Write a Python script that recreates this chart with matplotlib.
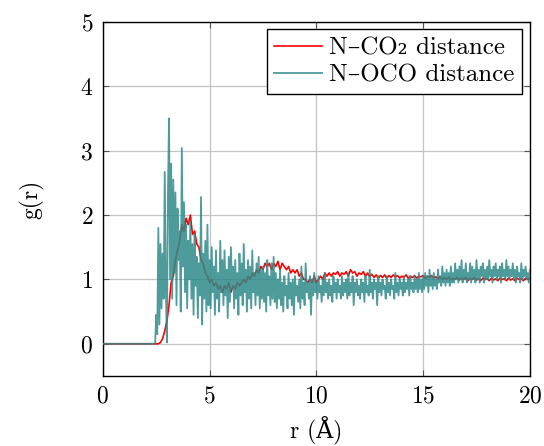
import numpy as np
import matplotlib
matplotlib.use("Agg")
import matplotlib.pyplot as plt

plt.rcParams['font.family'] = ['cmr10', 'DejaVu Serif']
plt.rcParams['mathtext.fontset'] = 'cm'
plt.rcParams['axes.formatter.use_mathtext'] = True

# N-CO2 g(r), sampled every 0.1 A starting at 2.6 A (zero before)
co2_start, co2_step = 2.6, 0.1
g_co2 = [
    0.0, 0.02, 0.08, 0.2, 0.35, 0.6, 0.95, 1.05, 1.3, 1.45,
    1.6, 1.85, 1.75, 1.95, 1.85, 2.0, 1.7, 1.75, 1.55, 1.5,
    1.3, 1.25, 1.1, 1.05, 0.95, 1.0, 0.9, 0.95, 0.85, 0.9,
    0.8, 0.9, 0.85, 0.95, 0.8, 0.9, 0.85, 0.95, 0.9, 0.95,
    1.0, 0.95, 1.05, 1.0, 1.1, 1.05, 1.15, 1.1, 1.2, 1.15,
    1.25, 1.2, 1.25, 1.15, 1.25, 1.2, 1.28, 1.15, 1.25, 1.2,
    1.15, 1.2, 1.1, 1.15, 1.1, 1.15, 1.05, 1.1, 1.0, 1.0,
    0.95, 1.0, 0.95, 1.05, 0.95, 1.0, 1.05, 1.0, 1.1, 1.05,
    1.1, 1.05, 1.1, 1.08, 1.12, 1.05, 1.1, 1.08, 1.12, 1.05,
    1.15, 1.1, 1.12, 1.05, 1.1, 1.08, 1.12, 1.05, 1.1, 1.04,
    1.08, 1.03, 1.07, 1.02, 1.06, 1.03, 1.07, 1.02, 1.06, 1.03,
    1.07, 1.04, 1.06, 1.02, 1.05, 1.03, 1.07, 1.02, 1.05, 1.03,
    1.06, 1.02, 1.05, 1.04, 1.06, 1.02, 1.05, 1.03, 1.06, 1.02,
    1.04, 1.01, 1.04, 1.0, 1.03, 1.0, 1.04, 0.99, 1.02, 1.0,
    1.03, 0.99, 1.02, 1.0, 1.03, 0.98, 1.02, 1.0, 1.03, 0.99,
    1.01, 0.98, 1.02, 1.0, 1.01, 0.98, 1.02, 0.99, 1.01, 0.98,
    1.02, 1.0, 1.01, 0.98, 1.02, 0.99, 1.01, 0.98, 1.02, 1.0,
    1.01, 0.98, 1.02, 1.0, 1.01,
]

# N-OCO g(r), sampled every 0.05 A starting at 2.4 A (zero before)
oco_start, oco_step = 2.4, 0.05
g_oco = [
    0.0, 0.0, 0.45, 0.15, 1.8, 0.3, 1.55, 0.55, 1.4, 0.7,
    2.67, 0.9, 0.02, 2.3, 3.5, 1.0, 2.8, 0.7, 2.55, 1.1,
    2.35, 0.6, 2.1, 1.3, 1.75, 0.5, 3.04, 1.2, 2.2, 0.8,
    1.85, 0.55, 1.6, 1.0, 1.9, 0.7, 1.55, 0.45, 1.7, 0.9,
    1.35, 0.4, 1.25, 0.75, 2.28, 0.3, 1.4, 0.7, 1.6, 0.5,
    1.85, 0.6, 1.3, 0.55, 1.5, 0.8, 1.2, 0.45, 1.45, 0.7,
    1.1, 0.5, 1.6, 0.8, 1.3, 0.6, 1.45, 0.75, 1.15, 0.4,
    1.35, 0.65, 1.5, 0.85, 1.2, 0.55, 1.3, 0.7, 1.1, 0.45,
    1.4, 0.75, 1.25, 0.6, 1.55, 0.8, 1.15, 0.5, 1.3, 0.7,
    1.2, 0.55, 1.45, 0.8, 1.1, 0.6, 1.25, 0.75, 1.35, 0.55,
    1.15, 0.7, 1.2, 0.65, 1.1, 0.5, 1.3, 0.75, 1.05, 0.6,
    1.25, 0.7, 1.35, 0.65, 1.1, 0.55, 1.0, 0.7, 1.15, 0.6,
    0.95, 0.5, 1.05, 0.75, 0.9, 0.55, 1.1, 0.7, 0.95, 0.6,
    1.0, 0.45, 1.05, 0.75, 0.9, 0.65, 1.0, 0.55, 1.2, 0.7,
    0.95, 0.6, 1.25, 0.8, 0.95, 0.7, 1.05, 0.45, 1.0, 0.75,
    1.1, 0.8, 0.95, 0.7, 1.05, 0.8, 0.9, 0.65, 1.0, 0.75,
    1.1, 0.8, 0.95, 0.7, 1.0, 0.75, 0.9, 0.65, 1.05, 0.8,
    0.95, 0.7, 1.0, 0.8, 0.9, 0.7, 1.05, 0.75, 0.95, 0.8,
    1.0, 0.7, 1.1, 0.75, 0.95, 0.8, 1.05, 0.6, 0.95, 0.8,
    1.0, 0.75, 0.9, 0.7, 1.0, 0.8, 0.95, 0.65, 1.05, 0.8,
    0.9, 0.75, 1.15, 0.8, 0.95, 0.7, 1.0, 0.85, 0.95, 0.6,
    1.05, 0.8, 0.95, 0.75, 1.0, 0.85, 0.9, 0.7, 1.05, 0.8,
    0.95, 0.75, 1.0, 0.85, 0.9, 0.7, 1.1, 0.8, 0.95, 0.75,
    1.0, 0.85, 0.95, 0.75, 1.05, 0.8, 0.95, 0.85, 1.0, 0.75,
    1.05, 0.85, 0.95, 0.8, 1.05, 0.85, 1.0, 0.8, 1.1, 0.85,
    1.0, 0.8, 1.05, 0.85, 1.1, 0.9, 1.05, 0.8, 1.15, 0.9,
    1.05, 0.85, 1.1, 0.9, 1.0, 0.85, 1.15, 0.95, 1.05, 0.9,
    1.2, 0.95, 1.1, 0.9, 1.15, 0.95, 1.1, 0.9, 1.2, 0.95,
    1.1, 0.95, 1.25, 1.0, 1.15, 0.95, 1.2, 1.0, 1.3, 0.95,
    1.15, 1.0, 1.25, 0.95, 1.1, 1.0, 1.25, 0.95, 1.2, 1.0,
    1.15, 0.95, 1.3, 1.0, 1.15, 0.95, 1.2, 1.05, 1.25, 0.95,
    1.15, 1.0, 1.2, 1.0, 1.3, 1.05, 1.15, 0.95, 1.2, 1.05,
    1.25, 1.0, 1.15, 1.05, 1.2, 0.95, 1.25, 1.05, 1.15, 1.0,
    1.3, 1.05, 1.2, 1.0, 1.15, 1.05, 1.25, 1.0, 1.15, 0.95,
    1.2, 1.05, 1.1, 0.95, 1.25, 1.0, 1.15, 1.05, 1.2, 1.0,
    1.1, 0.95, 1.15,
]

r_co2 = np.concatenate([[0.0], co2_start + co2_step * np.arange(len(g_co2))])
y_co2 = np.concatenate([[0.0], g_co2])
r_oco = np.concatenate([[0.0], oco_start + oco_step * np.arange(len(g_oco))])
y_oco = np.concatenate([[0.0], g_oco])

fig = plt.figure(figsize=(5.44, 4.46), dpi=100)
ax = fig.add_axes([0.189, 0.157, 0.785, 0.794])

ax.plot(r_co2, y_co2, color='#ff0000', lw=1.2, label='N–CO\u2082 distance', zorder=3)
ax.plot(r_oco, y_oco, color='#2e8a8a', lw=1.3, alpha=0.85, label='N–OCO distance', zorder=4)

ax.set_xlim(0, 20)
ax.set_ylim(-0.5, 5)
ax.set_xticks([0, 5, 10, 15, 20])
ax.set_yticks([0, 1, 2, 3, 4, 5])
ax.grid(True, color='#c4c4c4', lw=0.9)
ax.set_axisbelow(True)
ax.tick_params(direction='in', top=True, right=True, length=4, width=0.8,
               labelsize=17, color='#555555', pad=7)
for s in ax.spines.values():
    s.set_linewidth(1.0)

ax.set_xlabel('r (Å)', fontsize=17, labelpad=6)
ax.set_ylabel('g(r)', fontsize=17, labelpad=26)

leg = ax.legend(loc='upper right', fontsize=18, frameon=True, fancybox=False,
                edgecolor='black', framealpha=1, borderpad=0.3, labelspacing=0.2,
                handlelength=1.9, handletextpad=0.3, borderaxespad=0.3)
leg.get_frame().set_linewidth(1.0)

fig.savefig('out.png', dpi=100)
